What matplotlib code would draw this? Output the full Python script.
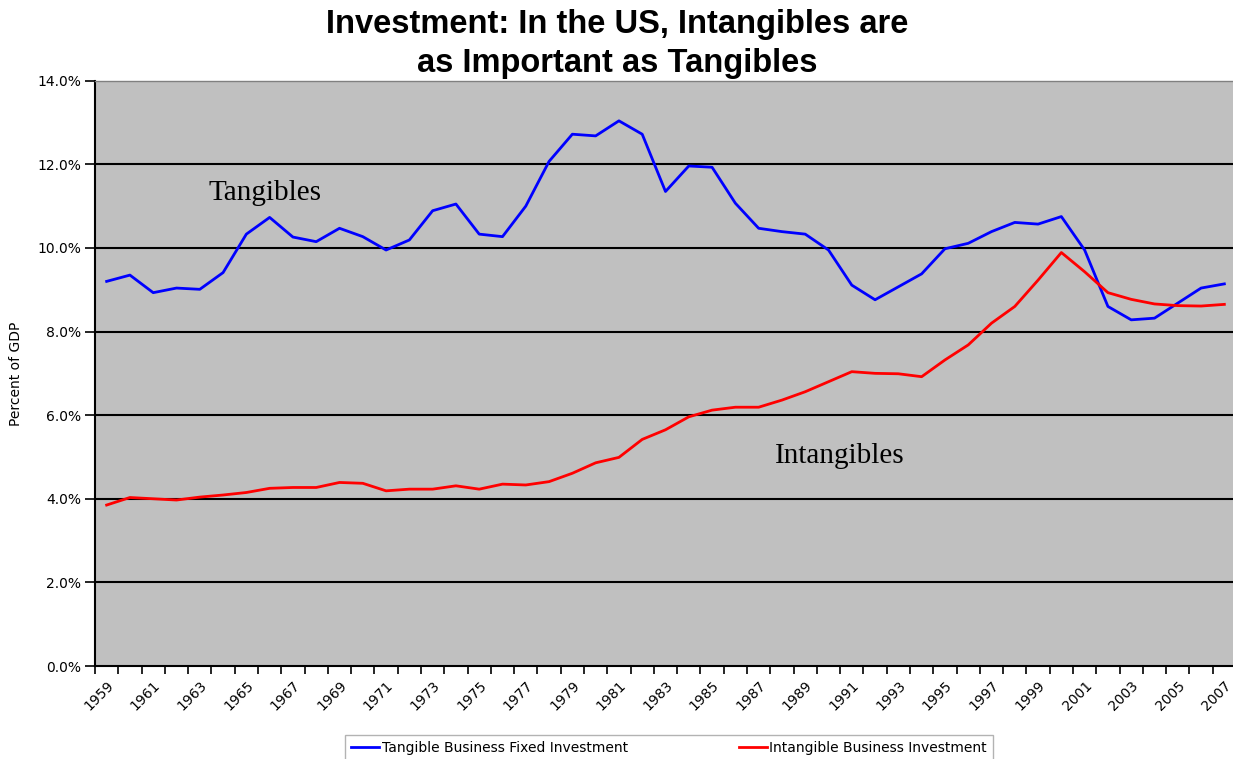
import matplotlib
matplotlib.use("Agg")
import matplotlib.pyplot as plt
from matplotlib.ticker import FixedLocator, FuncFormatter

years = list(range(1959, 2008))
tangible = [9.20, 9.35, 8.93, 9.04, 9.01, 9.41, 10.33, 10.73, 10.26, 10.15,
            10.47, 10.27, 9.95, 10.19, 10.89, 11.05, 10.33, 10.27, 11.00, 12.07,
            12.72, 12.68, 13.04, 12.72, 11.35, 11.96, 11.93, 11.07, 10.47, 10.39,
            10.33, 9.95, 9.11, 8.76, 9.07, 9.38, 9.98, 10.11, 10.39, 10.61,
            10.57, 10.75, 9.95, 8.60, 8.28, 8.32, 8.68, 9.04, 9.14]
intangible = [3.85, 4.03, 4.00, 3.97, 4.04, 4.09, 4.15, 4.25, 4.27, 4.27,
              4.39, 4.37, 4.19, 4.23, 4.23, 4.31, 4.23, 4.35, 4.33, 4.41,
              4.61, 4.86, 4.99, 5.42, 5.65, 5.96, 6.12, 6.19, 6.19, 6.36,
              6.56, 6.80, 7.04, 7.00, 6.99, 6.92, 7.32, 7.68, 8.20, 8.60,
              9.23, 9.89, 9.43, 8.93, 8.77, 8.66, 8.62, 8.61, 8.65]
yticks = [0, 2, 4, 6, 8, 10, 12, 14]
title = "Investment: In the US, Intangibles are\nas Important as Tangibles"
series_labels = ["Tangible Business Fixed Investment", "Intangible Business Investment"]

W, H = 1233, 759
fig = plt.figure(figsize=(W / 100, H / 100), dpi=100)
plt.rcParams['font.family'] = ['DejaVu Sans']

left, right, top, bottom = 95, 1236, 80.7, 666
ax = fig.add_axes([left / W, 1 - bottom / H, (right - left) / W, (bottom - top) / H])
ax.set_facecolor('#C0C0C0')

x = list(range(len(years)))
l1, = ax.plot(x, tangible, color='#0000FF', lw=2.0, label=series_labels[0], zorder=3)
l2, = ax.plot(x, intangible, color='#FF0000', lw=2.0, label=series_labels[1], zorder=3)

ax.set_xlim(-0.5, len(years) - 0.5)
ax.set_ylim(0, 14)
ax.set_yticks(yticks)
ax.yaxis.set_major_formatter(FuncFormatter(lambda v, p: f"{v:.1f}%"))
ax.tick_params(axis='y', direction='out', length=7, width=1.2, labelsize=10, pad=3)
for yv in yticks[1:-1]:
    ax.axhline(yv, color='black', lw=1.5, zorder=1)

lab_idx = [i for i in x if i % 2 == 0]
ax.set_xticks(lab_idx)
ax.set_xticklabels([str(years[i]) for i in lab_idx], rotation=45, ha='right',
                   va='top', rotation_mode='anchor', fontsize=10)
ax.tick_params(axis='x', which='major', length=0, pad=9)
ax.xaxis.set_minor_locator(FixedLocator([i - 0.5 for i in range(len(years) + 1)]))
ax.tick_params(axis='x', which='minor', direction='out', length=6, width=1.2)

for s in ['left', 'bottom']:
    ax.spines[s].set_color('black')
    ax.spines[s].set_linewidth(1.5)
ax.spines['top'].set_color('#808080')
ax.spines['top'].set_linewidth(1.0)
ax.spines['right'].set_visible(False)

ax.set_ylabel("Percent of GDP", fontsize=10)
ax.yaxis.set_label_coords(-72 / (right - left), 0.5)

fig.text(617 / W, 1 - 44 / H, title, ha='center', va='center', fontsize=23.5,
         fontweight='bold', family='Liberation Sans', linespacing=1.32)

fig.text(265 / W, 1 - 193 / H, "Tangibles", ha='center', va='center',
         fontsize=21, family='Liberation Serif')
fig.text(840 / W, 1 - 456 / H, "Intangibles", ha='center', va='center',
         fontsize=21, family='Liberation Serif')

leg = fig.legend(handles=[l1, l2], loc='center', bbox_to_anchor=(669 / W, 1 - 748 / H),
                 ncol=2, fontsize=10, frameon=True, fancybox=False, edgecolor='#A0A0A0',
                 handlelength=2.0, handletextpad=0.2, columnspacing=8, borderpad=0.4)
leg.get_frame().set_linewidth(1.0)

fig.savefig("out.png", dpi=100)
